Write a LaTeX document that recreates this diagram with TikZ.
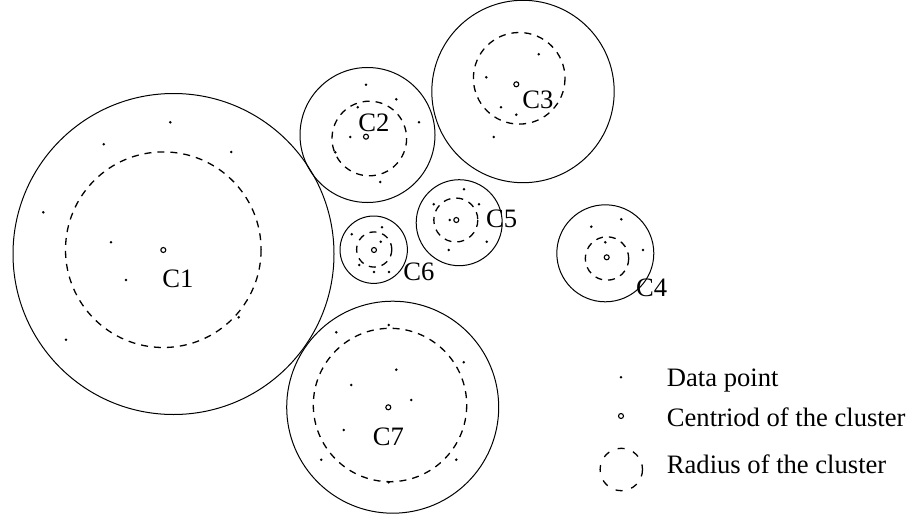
\documentclass[tikz,border=0pt]{standalone}
\usepackage{fontspec}
\setmainfont{Liberation Serif}
\begin{document}
\begin{tikzpicture}[x=1pt,y=-1pt,
  outer/.style={draw=black,line width=1pt},
  radiuscirc/.style={draw=black,line width=1.3pt,dash pattern=on 7pt off 6pt},
  datapt/.style={fill=black},
  centroidpt/.style={draw=black,line width=1.1pt},
  lbl/.style={inner sep=0pt,anchor=base,font=\fontsize{26.6}{30}\selectfont},
  legtext/.style={inner sep=0pt,anchor=base west,font=\fontsize{26.6}{30}\selectfont}]
\useasboundingbox (0,0) rectangle (912,519);
% C1
\draw[outer] (173.5,254) circle (160.5);
\draw[radiuscirc] (163.3,249.7) circle (97.8);
\draw[centroidpt] (163.3,250) circle (2.5);
\foreach \p in {(170.3,122.3),(103.7,144.3),(231.3,152),(43.3,212.3),(111,242.3),(126,280),(238.7,317.3),(66,339.7)}
  \fill[datapt] \p circle (1.4);
\node[lbl] (c1) at (178,287) {C1};
% C2
\draw[outer] (367.5,135) circle (67.5);
\draw[radiuscirc] (369.3,138.5) circle (37.3);
\draw[centroidpt] (366,136.7) circle (2.5);
\foreach \p in {(366,84.7),(396.3,99.3),(357.7,107.3),(419,122.3),(350.3,137),(335.3,152.3),(380.3,182)}
  \fill[datapt] \p circle (1.4);
\node[lbl] (c2) at (374,131) {C2};
% C3
\draw[outer] (523,91.5) circle (91.2);
\draw[radiuscirc] (519.2,78.3) circle (45.8);
\draw[centroidpt] (516.3,84.3) circle (2.5);
\foreach \p in {(538.7,54.3),(486.3,77.3),(501,107.3),(516.3,114.7),(493.7,137)}
  \fill[datapt] \p circle (1.4);
\node[lbl] (c3) at (538,108) {C3};
% C4
\draw[outer] (605.3,253.3) circle (48.5);
\draw[radiuscirc] (607,258.5) circle (21.7);
\draw[centroidpt] (606.7,257.3) circle (2.5);
\foreach \p in {(621.3,219.3),(591.3,226.7),(605.3,242.3),(643,250)}
  \fill[datapt] \p circle (1.4);
\node[lbl] (c4) at (651.7,296) {C4};
% C5
\draw[outer] (459.2,222.7) circle (43);
\draw[radiuscirc] (455.8,220) circle (22);
\draw[centroidpt] (456.3,220) circle (2.5);
\foreach \p in {(464,189.3),(433.7,204.3),(479,204.3),(449.7,220),(486.7,241.7),(448.7,250)}
  \fill[datapt] \p circle (1.4);
\node[lbl] (c5) at (501.7,227) {C5};
% C6
\draw[outer] (373.7,249.7) circle (33.7);
\draw[radiuscirc] (374.2,249.5) circle (17.6);
\draw[centroidpt] (374,250) circle (2.5);
\foreach \p in {(382,227.3),(351.7,234.3),(380.7,241.7),(359.3,265),(374,272),(389,272)}
  \fill[datapt] \p circle (1.4);
\node[lbl] (c6) at (419,280) {C6};
% C7
\draw[outer] (392.7,407.2) circle (106);
\draw[radiuscirc] (390,405) circle (76.7);
\draw[centroidpt] (388.3,407.3) circle (2.5);
\foreach \p in {(388.7,325),(336.3,332.3),(463.7,362.3),(396.3,369.7),(351.3,385),(411.3,400),(343.7,430),(321.3,459.7),(456.3,459.7),(388.7,482.3)}
  \fill[datapt] \p circle (1.4);
\node[lbl] (c7) at (388.3,445) {C7};
% Legend
\fill[datapt] (621,377.3) circle (1.4);
\draw[centroidpt] (621,416) circle (2.5);
\draw[radiuscirc,dash pattern=on 7pt off 9pt] (621.3,469.5) circle (21.2);
\node[legtext] (l1) at (666.7,386.7) {Data point};
\node[legtext] (l2) at (666.7,426) {Centriod of the cluster};
\node[legtext] (l3) at (666.7,473.3) {Radius of the cluster};
\end{tikzpicture}
\end{document}
